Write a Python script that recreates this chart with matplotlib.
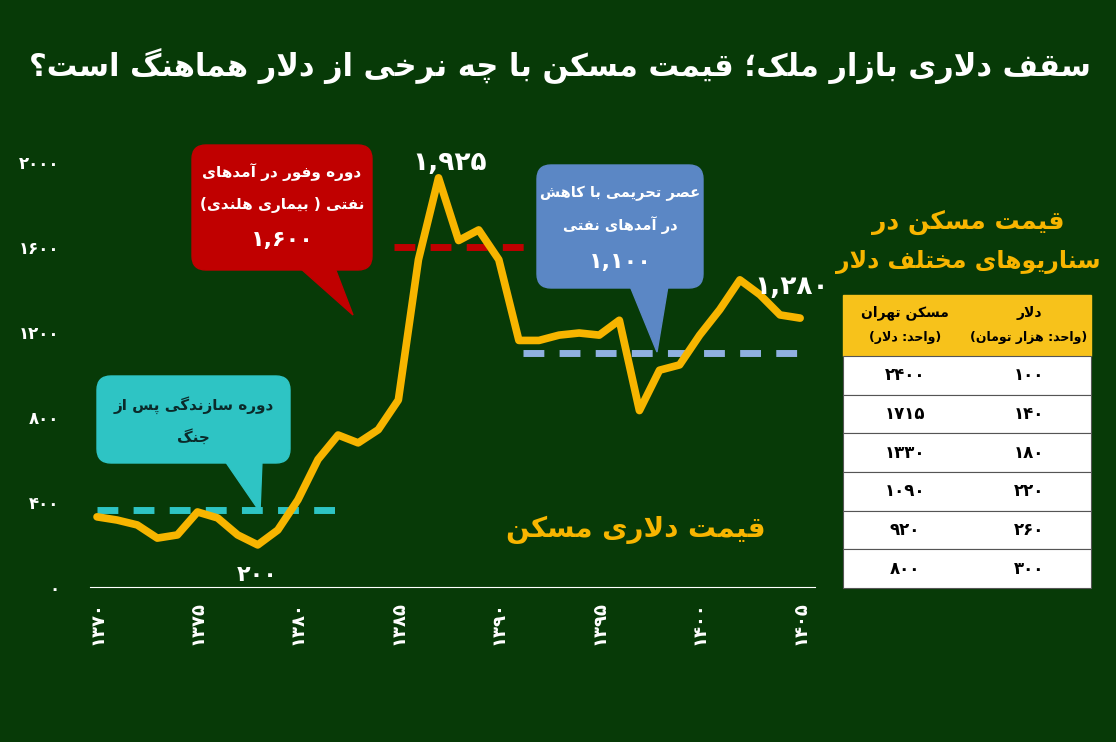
import re
import matplotlib
matplotlib.use("Agg")
import matplotlib.pyplot as plt
from matplotlib.patches import FancyBboxPatch, Polygon, Rectangle

# ---------------- data ----------------
years = list(range(1370, 1406))
price = [330, 315, 292, 230, 245, 353, 325, 245, 198, 268, 410, 600, 715, 678, 740,
         880, 1540, 1925, 1630, 1680, 1540, 1160, 1160, 1185, 1195, 1185, 1255, 830,
         1020, 1045, 1185, 1305, 1445, 1375, 1280, 1265]
ref_levels = [360, 1600, 1100]
ref_spans = [(1370, 1382.3), (1384.8, 1391.3), (1391.2, 1405.3)]
ref_colors = ["#2ec4c4", "#c00000", "#8fb0e0"]
yticks = [0, 400, 800, 1200, 1600, 2000]
xticks = [1370, 1375, 1380, 1385, 1390, 1395, 1400, 1405]
tbl_dollar = [100, 140, 180, 220, 260, 300]
tbl_house = [2400, 1715, 1330, 1090, 920, 800]

BG = "#073a07"
YEL = "#f7b500"

# ---------------- minimal Persian shaping ----------------
F4 = {
    'ب': 0xFE8F, 'ت': 0xFE95, 'ث': 0xFE99, 'ج': 0xFE9D, 'ح': 0xFEA1, 'خ': 0xFEA5,
    'س': 0xFEB1, 'ش': 0xFEB5, 'ص': 0xFEB9, 'ض': 0xFEBD, 'ط': 0xFEC1, 'ظ': 0xFEC5,
    'ع': 0xFEC9, 'غ': 0xFECD, 'ف': 0xFED1, 'ق': 0xFED5, 'ل': 0xFEDD, 'م': 0xFEE1,
    'ن': 0xFEE5, 'ه': 0xFEE9, 'ی': 0xFBFC, 'ک': 0xFB8E, 'گ': 0xFB92, 'پ': 0xFB56,
    'چ': 0xFB7A,
}
F2 = {'ا': 0xFE8D, 'آ': 0xFE81, 'د': 0xFEA9, 'ذ': 0xFEAB, 'ر': 0xFEAD, 'ز': 0xFEAF,
      'ژ': 0xFB8A, 'و': 0xFEED}


def shape(s):
    out = []
    i = 0
    n = len(s)
    while i < n:
        c = s[i]
        prev = s[i - 1] if i > 0 else ''
        pj = prev in F4
        if c == 'ل' and i + 1 < n and s[i + 1] == 'ا':
            out.append(chr(0xFEFC if pj else 0xFEFB))
            i += 2
            continue
        nxt = s[i + 1] if i + 1 < n else ''
        nj = nxt in F4 or nxt in F2
        if c in F4:
            b = F4[c]
            off = (3 if nj else 1) if pj else (2 if nj else 0)
            out.append(chr(b + off))
        elif c in F2:
            out.append(chr(F2[c] + (1 if pj else 0)))
        else:
            out.append(c)
        i += 1
    return ''.join(out)


MIRROR = {'(': ')', ')': '('}


def fa(s):
    s = shape(s)
    toks = re.findall(r'[0-9۰-۹,.]+|[^0-9۰-۹,.]+', s)
    res = []
    for t in reversed(toks):
        if re.match(r'[0-9۰-۹]', t):
            res.append(t)
        else:
            res.append(''.join(MIRROR.get(ch, ch) for ch in reversed(t)))
    return ''.join(res)


def pdig(v, comma=False):
    s = f"{v:,}" if comma else str(v)
    return s.translate(str.maketrans("0123456789", "۰۱۲۳۴۵۶۷۸۹"))


plt.rcParams['font.family'] = ['DejaVu Sans']
plt.rcParams['font.weight'] = 'bold'

W, H = 1116, 742
fig = plt.figure(figsize=(W / 100, H / 100), dpi=100, facecolor=BG)

# ---------------- main chart ----------------
ax = fig.add_axes([90 / W, 1 - 587 / H, 725 / W, 457 / H])
ax.set_facecolor(BG)
ax.set_xlim(1369.65, 1405.74)
ax.set_ylim(0, 2150)
for (x0, x1), lv, col in zip(ref_spans, ref_levels, ref_colors):
    ax.plot([x0, x1], [lv, lv], color=col, lw=5, ls=(0, (3, 2.2)), zorder=2)
ax.plot(years, price, color=YEL, lw=5.5, solid_joinstyle='round',
        solid_capstyle='round', zorder=3)
for s in ['top', 'right', 'left']:
    ax.spines[s].set_visible(False)
ax.spines['bottom'].set_color('white')
ax.set_yticks(yticks)
ax.set_yticklabels([pdig(v) for v in yticks], color='white', fontsize=12)
ax.set_xticks(xticks)
ax.set_xticklabels([pdig(v) for v in xticks], color='white', fontsize=13, rotation=90)
ax.tick_params(length=0, pad=10)
ax.tick_params(axis='y', pad=22)

# ---------------- overlay in pixel coords ----------------
ov = fig.add_axes([0, 0, 1, 1], zorder=5)
ov.set_xlim(0, W)
ov.set_ylim(H, 0)
ov.axis('off')
ov.patch.set_alpha(0)

ov.text(560, 66, fa("سقف دلاری بازار ملک؛ قیمت مسکن با چه نرخی از دلار هماهنگ است؟"),
        color='white', fontsize=22, ha='center', va='center')


def callout(x0, y0, x1, y1, tri, color, lines, tcolor='white'):
    ov.add_patch(Polygon(tri, closed=True, color=color, zorder=1))
    ov.add_patch(FancyBboxPatch((x0, y0), x1 - x0, y1 - y0,
                                boxstyle="round,pad=0,rounding_size=14",
                                color=color, zorder=1))
    for txt, yy, fs in lines:
        ov.text((x0 + x1) / 2, yy, txt, color=tcolor, fontsize=fs,
                ha='center', va='center', zorder=2)


callout(192, 145, 372, 270, [(300, 268), (335, 268), (353, 315)], "#c00000",
        [(fa("دوره وفور در آمدهای"), 172, 11), (fa("نفتی ( بیماری هلندی)"), 205, 11),
         (pdig(1600, True), 240, 16)])
callout(537, 165, 703, 288, [(630, 286), (668, 286), (657, 352)], "#5b87c5",
        [(fa("عصر تحریمی با کاهش"), 193, 10.5), (fa("در آمدهای نفتی"), 225, 10.5),
         (pdig(1100, True), 262, 16)])
callout(97, 376, 290, 463, [(225, 461), (262, 461), (260, 512)], "#2ec4c4",
        [(fa("دوره سازندگی پس از"), 405, 11), (fa("جنگ"), 437, 11)],
        tcolor="#0b2a2a")

ov.text(450, 163, pdig(1925, True), color='white', fontsize=19, ha='center', va='center')
ov.text(257, 575, pdig(200), color='white', fontsize=16, ha='center', va='center')
ov.text(792, 287, pdig(1280, True), color='white', fontsize=19, ha='center', va='center')
ov.text(636, 530, fa("قیمت دلاری مسکن"), color=YEL, fontsize=20, ha='center', va='center')
ov.text(968, 222, fa("قیمت مسکن در"), color=YEL, fontsize=18, ha='center', va='center')
ov.text(968, 262, fa("سناریوهای مختلف دلار"), color=YEL, fontsize=17, ha='center', va='center')

# ---------------- table ----------------
tx0, tx1, tmid = 843, 1091, 967
hy0, hy1 = 295, 356
ov.add_patch(Rectangle((tx0, hy0), tx1 - tx0, hy1 - hy0, color="#f7c21b", zorder=1))
ov.text((tmid + tx1) / 2, 313, fa("دلار"), fontsize=10, ha='center', va='center')
ov.text((tmid + tx1) / 2, 337, fa("(واحد: هزار تومان)"), fontsize=9, ha='center', va='center')
ov.text((tx0 + tmid) / 2, 313, fa("مسکن تهران"), fontsize=10, ha='center', va='center')
ov.text((tx0 + tmid) / 2, 337, fa("(واحد: دلار)"), fontsize=9, ha='center', va='center')
rh = (588 - hy1) / len(tbl_dollar)
for k, (d, hv) in enumerate(zip(tbl_dollar, tbl_house)):
    y0 = hy1 + k * rh
    ov.add_patch(Rectangle((tx0, y0), tx1 - tx0, rh, facecolor='white',
                           edgecolor='#555555', lw=0.8, zorder=1))
    ov.text((tmid + tx1) / 2, y0 + rh / 2, pdig(d), fontsize=12, ha='center', va='center')
    ov.text((tx0 + tmid) / 2, y0 + rh / 2, pdig(hv), fontsize=12, ha='center', va='center')

fig.savefig("out.png", dpi=100, facecolor=BG)
